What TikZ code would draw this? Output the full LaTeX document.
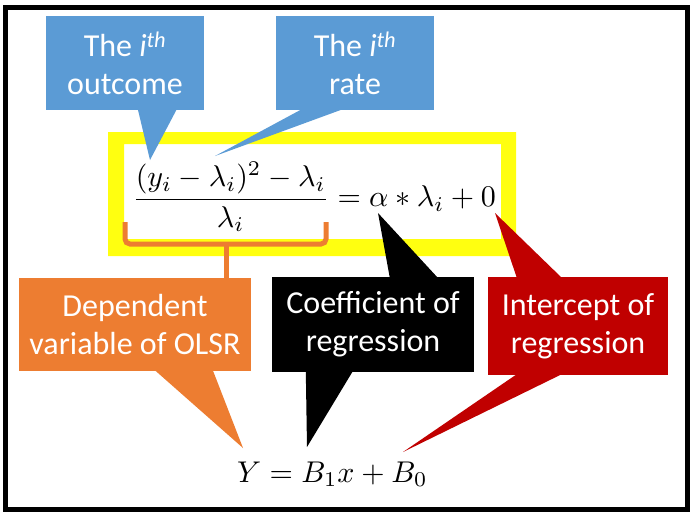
\documentclass[tikz,border=0pt]{standalone}
\usepackage{graphicx}
\usepackage{fontspec}
\usetikzlibrary{calc}
\newfontfamily\calib{Carlito}
\definecolor{cblue}{HTML}{5B9BD5}
\definecolor{corange}{HTML}{ED7D31}
\definecolor{cred}{HTML}{C00000}
\definecolor{cyellow}{HTML}{FFFF10}
\tikzset{
  callout/.style={inner sep=0pt, align=center, text=white,
    font=\calib\fontsize{32}{38}\selectfont},
  eqn/.style={inner sep=0pt, font=\fontsize{10}{12}\selectfont},
  bracestyle/.style={draw=corange, line width=5pt},
}
\begin{document}
\begin{tikzpicture}[x=1pt,y=-1pt]
\useasboundingbox (0,0) rectangle (697,517);
\fill[white] (0,0) rectangle (697,517);
\draw[line width=5pt] (5.5,7.5) rectangle (687.5,509.5);
% yellow frame
\fill[cyellow,even odd rule] (108,132) rectangle (516,256) (124,144) rectangle (501,239);
% equations
\node[eqn, anchor=west] (eq) at (132,197)
  {\scalebox{3.0}{$\displaystyle\frac{(y_i-\lambda_i)^2-\lambda_i}{\lambda_i}=\alpha*\lambda_i+0$}};
\node[eqn, anchor=base west] (eq2) at (237,482) {\scalebox{3.0}{$Y=B_1x+B_0$}};
% brace
\coordinate (bm) at (226.5,244);
\draw[bracestyle, rounded corners=5pt] (125,222) -- (125,244) -- (326,244) -- (326,222);
% boxes
\node[callout, fill=cblue, minimum width=158, minimum height=94] (b1) at (125,63)
  {The {\itshape i}\textsuperscript{\itshape th}\\outcome};
\node[callout, fill=cblue, minimum width=158, minimum height=94] (b2) at (355,63)
  {The {\itshape i}\textsuperscript{\itshape th}\\rate};
\node[callout, fill=corange, minimum width=232, minimum height=93] (ob) at (135,324.5)
  {Dependent\\variable of OLSR};
\node[callout, fill=black, minimum width=202, minimum height=95] (kb) at (373,324.5)
  {Coefficient of\\regression};
\node[callout, fill=cred, minimum width=180, minimum height=98] (rb) at (578,326)
  {Intercept of\\regression};
\draw[bracestyle] (bm) -- (bm |- ob.north);
% pointer tips
\coordinate (t1) at (150,160);
\coordinate (t2) at (215,156);
\coordinate (t3) at (243,448);
\coordinate (t4) at (378,213);
\coordinate (t5) at (307,447);
\coordinate (t6) at (495,213);
\coordinate (t7) at (403,452);
% pointers
\fill[cblue] ($(b1.south west)+(92,-1)$) -- (t1) -- ($(b1.south west)+(131,-1)$) -- cycle;
\fill[cblue] ($(b2.south west)+(26,-1)$) -- (t2) -- ($(b2.south west)+(67,-1)$) -- cycle;
\fill[corange] ($(ob.south west)+(136,-1)$) -- (t3) -- ($(ob.south west)+(194,-1)$) -- cycle;
\fill[black] ($(kb.north west)+(118,1)$) -- (t4) -- ($(kb.north west)+(166,1)$) -- cycle;
\fill[black] ($(kb.south west)+(34,-1)$) -- (t5) -- ($(kb.south west)+(81,-1)$) -- cycle;
\fill[cred] ($(rb.north west)+(29,1)$) -- (t6) -- ($(rb.north west)+(74,1)$) -- cycle;
\fill[cred] ($(rb.south west)+(29,-1)$) -- (t7) -- ($(rb.south west)+(74,-1)$) -- cycle;
\end{tikzpicture}
\end{document}
